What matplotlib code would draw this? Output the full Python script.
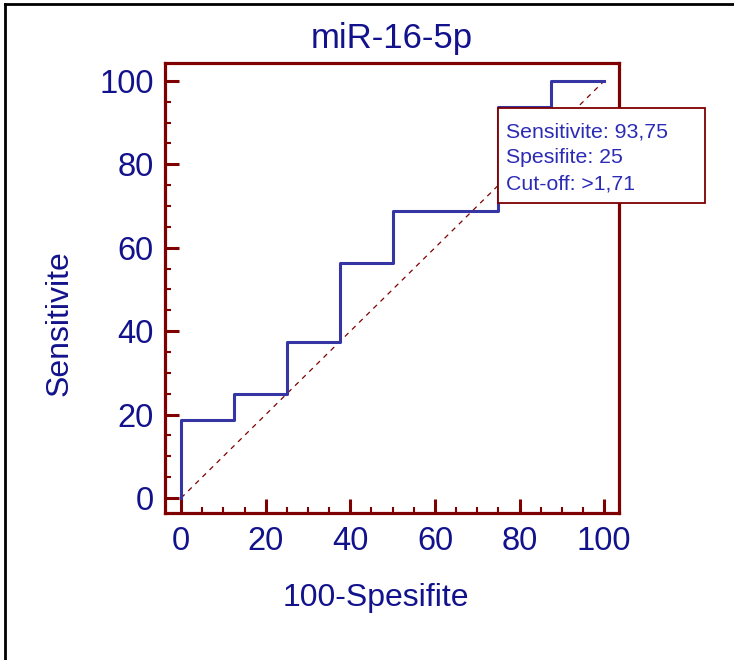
import matplotlib
matplotlib.use("Agg")

import matplotlib.pyplot as plt
from matplotlib.lines import Line2D
from matplotlib.patches import Rectangle
from matplotlib.ticker import MultipleLocator

# ROC points (100-specificity, sensitivity)
FPR = [0, 0, 12.5, 25, 37.5, 50, 75, 87.5, 100]
SENS = [0, 18.75, 25, 37.5, 56.25, 68.75, 93.75, 100, 100]

TITLE = "miR-16-5p"
XLABEL = "100-Spesifite"
YLABEL = "Sensitivite"
INFO_LINES = ["Sensitivite: 93,75", "Spesifite: 25", "Cut-off: >1,71"]

SPINE_COLOR = "#7F0000"
CURVE_COLOR = "#3535A3"
TEXT_COLOR = "#12128C"
INFO_COLOR = "#2B2BB5"

plt.rcParams.update({
    "font.family": ["Liberation Sans", "DejaVu Sans"],
    "font.size": 22,
})

W, H = 734, 660
fig = plt.figure(figsize=(W / 100, H / 100), dpi=100, facecolor="white")

# axes box from pixel edges
left, right, top, bottom = 165, 619, 63, 513
ax = fig.add_axes([left / W, 1 - bottom / H, (right - left) / W, (bottom - top) / H])

ax.step(FPR, SENS, where="post", color=CURVE_COLOR, linewidth=2.2, zorder=3)
ax.plot([0, 100], [0, 100], color=SPINE_COLOR, linewidth=0.9,
        linestyle=(0, (4, 4)), zorder=2)

ax.set_xlim(-3.8, 103.5)
ax.set_ylim(-3.6, 104.3)

for side in ["left", "bottom", "top", "right"]:
    ax.spines[side].set_color(SPINE_COLOR)
    ax.spines[side].set_linewidth(2.3)

ax.xaxis.set_major_locator(MultipleLocator(20))
ax.yaxis.set_major_locator(MultipleLocator(20))
ax.xaxis.set_minor_locator(MultipleLocator(5))
ax.yaxis.set_minor_locator(MultipleLocator(5))

ax.tick_params(which="both", direction="in", color=SPINE_COLOR,
               top=False, right=False, labelcolor=TEXT_COLOR, labelsize=23.5)
ax.tick_params(which="major", length=10, width=2.2)
ax.tick_params(which="minor", length=4.5, width=1.5)
ax.tick_params(axis="x", which="major", pad=9)
ax.tick_params(axis="y", which="major", pad=8)

ax.set_title(TITLE, color=TEXT_COLOR, fontsize=25, pad=11)
ax.set_xlabel(XLABEL, color=TEXT_COLOR, fontsize=23)
ax.set_ylabel(YLABEL, color=TEXT_COLOR, fontsize=23)
ax.xaxis.set_label_coords(0.4637, -0.189)
ax.yaxis.set_label_coords(-0.232, 0.422)
ax.xaxis.label.set_verticalalignment("center")
ax.yaxis.label.set_verticalalignment("center")

# info box
bx0, bx1, by0, by1 = 498, 705, 108, 203
fig.add_artist(Rectangle((bx0 / W, 1 - by1 / H), (bx1 - bx0) / W, (by1 - by0) / H,
                         transform=fig.transFigure, facecolor="white",
                         edgecolor=SPINE_COLOR, linewidth=1.3, zorder=5))
for i, line in enumerate(INFO_LINES):
    fig.text(506 / W, 1 - (137 + 26 * i) / H, line, color=INFO_COLOR,
             fontsize=15.3, va="baseline", ha="left", zorder=6)

# outer frame (top and left)
fig.add_artist(Line2D([5 / W, 1], [1 - 4 / H, 1 - 4 / H], transform=fig.transFigure,
                      color="black", linewidth=2))
fig.add_artist(Line2D([5 / W, 5 / W], [0, 1 - 4 / H], transform=fig.transFigure,
                      color="black", linewidth=2))

fig.savefig("out.png", dpi=100, facecolor="white")
